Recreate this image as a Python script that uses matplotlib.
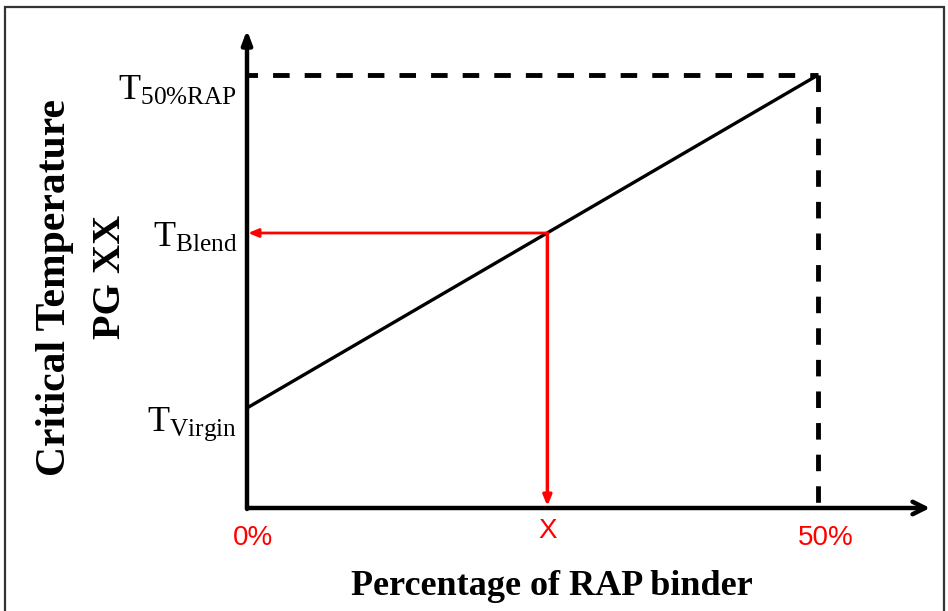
"""
Blending chart: critical temperature vs percentage of RAP binder.
"""

import matplotlib.pyplot as plt
from matplotlib.patches import Rectangle
import matplotlib.transforms as mtransforms

plt.rcParams["mathtext.fontset"] = "custom"
plt.rcParams["mathtext.rm"] = "Liberation Serif"
plt.rcParams["mathtext.it"] = "Liberation Serif:italic"
plt.rcParams["mathtext.bf"] = "Liberation Serif:bold"

# ---------------------------------------------------------------------------
# Data (read off the schematic, arbitrary temperature units)
# ---------------------------------------------------------------------------

RAP_PCT = [0, 50]                 # % RAP binder at the two ends
T_LINE = [1.0, 4.33]              # critical temperature at 0% and 50% RAP
X_BLEND = 26.3                    # blend RAP percentage "X"
T_BLEND = 2.75                    # blend critical temperature

X_TICK_POS = [0, X_BLEND, 50]
X_TICK_LABELS = ["0%", "X", "50%"]
T_LABELS = [r"$\mathrm{T_{Virgin}}$", r"$\mathrm{T_{Blend}}$", r"$\mathrm{T_{50\%RAP}}$"]
T_VALUES = [T_LINE[0], T_BLEND, T_LINE[1]]

X_MAX = 59.8
Y_MAX = 4.78

# ---------------------------------------------------------------------------
# Figure
# ---------------------------------------------------------------------------

W, H = 948, 611
fig = plt.figure(figsize=(W / 100, H / 100), dpi=100, facecolor="white")
ax = fig.add_axes([247 / W, (H - 508) / H, (930 - 247) / W, (508 - 30) / H])
ax.set_xlim(0, X_MAX)
ax.set_ylim(0, Y_MAX)
ax.axis("off")

# axes with arrows
ax.annotate("", xy=(X_MAX, 0), xytext=(0, 0),
            arrowprops=dict(arrowstyle="->,head_length=0.9,head_width=0.45",
                            color="black", lw=3.2, shrinkA=0, shrinkB=0))
ax.annotate("", xy=(0, Y_MAX), xytext=(0, -0.01),
            arrowprops=dict(arrowstyle="-|>,head_length=0.8,head_width=0.3",
                            color="black", lw=3.2, shrinkA=0, shrinkB=0))

# dashed guide lines at 50% RAP
ax.plot([-0.5, RAP_PCT[1]], [T_LINE[1], T_LINE[1]], color="black", lw=3.5,
        linestyle=(0, (3.4, 3.1)), solid_capstyle="butt")
ax.plot([RAP_PCT[1], RAP_PCT[1]], [T_LINE[1], 0], color="black", lw=3.5,
        linestyle=(0, (3.4, 3.1)), solid_capstyle="butt")

# blending line
ax.plot(RAP_PCT, T_LINE, color="black", lw=2.4, solid_capstyle="butt")

# red read-off arrows
ax.annotate("", xy=(0.1, T_BLEND), xytext=(X_BLEND, T_BLEND),
            arrowprops=dict(arrowstyle="-|>,head_length=0.6,head_width=0.25",
                            color="red", lw=2.0, shrinkA=0, shrinkB=0))
ax.annotate("", xy=(X_BLEND, 0.02), xytext=(X_BLEND, T_BLEND),
            arrowprops=dict(arrowstyle="-|>,head_length=0.6,head_width=0.25",
                            color="red", lw=2.5, shrinkA=0, shrinkB=0))

# y labels (T values), right aligned left of the axis
label_offsets = [-0.23, -0.14, -0.25]
for lbl, val, off in zip(T_LABELS, T_VALUES, label_offsets):
    ax.text(-0.85, val + off, lbl, ha="right", va="baseline", fontsize=26,
            color="black")

# x tick labels in red
trans = mtransforms.blended_transform_factory(ax.transData, ax.transAxes)
tick_y = [-0.063, -0.048, -0.063]
tick_dx = [0.55, 0.0, 0.7]
for pos, lbl, ty, dx in zip(X_TICK_POS, X_TICK_LABELS, tick_y, tick_dx):
    ax.text(pos + dx, ty, lbl, transform=trans, ha="center", va="center",
            fontsize=20, color="red", family="Liberation Sans")

# axis titles
fig.text(55 / W, 1 - 287 / H, "Critical Temperature", rotation=90,
         ha="center", va="center", fontsize=30, fontweight="bold",
         family="Liberation Serif")
fig.text(111 / W, 1 - 277 / H, "PG XX", rotation=90,
         ha="center", va="center", fontsize=29, fontweight="bold",
         family="Liberation Serif")
fig.text(552 / W, 1 - 595 / H, "Percentage of RAP binder",
         ha="center", va="baseline", fontsize=26, fontweight="bold",
         family="Liberation Serif")

# outer frame
fig.patches.append(Rectangle((5 / W, -0.01), (944 - 5) / W, 1 - 7 / H + 0.01,
                             transform=fig.transFigure, fill=False,
                             edgecolor="#333333", lw=1.6))

fig.savefig("out.png", dpi=100, facecolor="white")
